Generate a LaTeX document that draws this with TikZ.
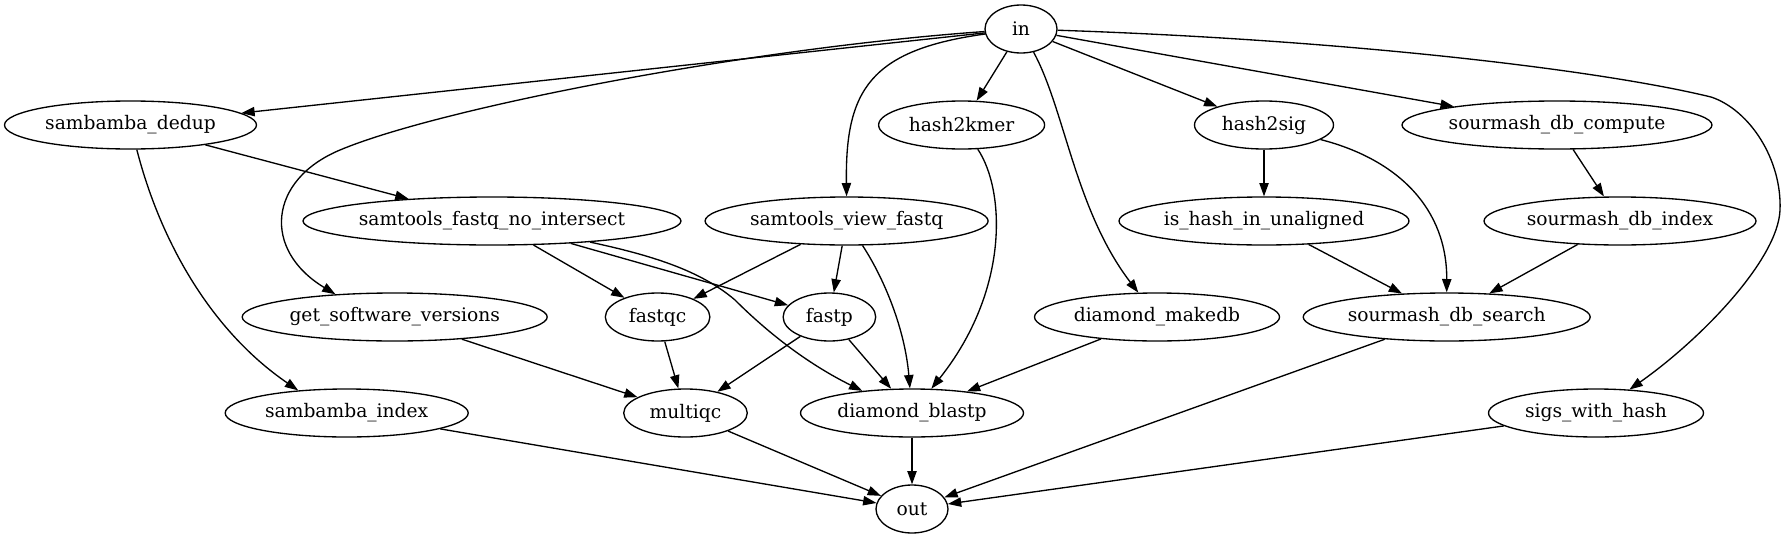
\documentclass[tikz,border=0pt]{standalone}
\usepackage{fontspec}
\setmainfont{DejaVu Serif}
\usetikzlibrary{shapes.geometric,arrows.meta}
\begin{document}
\begin{tikzpicture}[x=0.75pt,y=-0.75pt,
  nd/.style={ellipse,draw,line width=1pt,inner xsep=-4pt,inner ysep=0pt,minimum height=36pt,font=\fontsize{14pt}{16pt}\selectfont},
  ed/.style={line width=1pt,-{Triangle[length=10pt,width=7pt]}}]
\useasboundingbox (0,0) rectangle (1787,539);
% nodes
\node[nd,minimum width=54pt]     (in)  at (1021,29)   {in};
\node[nd,minimum width=189pt]    (sd)  at (130.5,125) {sambamba\_dedup};
\node[nd,minimum width=124.5pt]  (h2k) at (961.6,125) {hash2kmer};
\node[nd,minimum width=104.25pt] (h2s) at (1264,125)  {hash2sig};
\node[nd,minimum width=232.5pt]  (sdc) at (1557,125)  {sourmash\_db\_compute};
\node[nd,minimum width=283.5pt]  (sfn) at (492,221)   {samtools\_fastq\_no\_intersect};
\node[nd,minimum width=212.25pt] (svf) at (846.6,221) {samtools\_view\_fastq};
\node[nd,minimum width=217.5pt]  (ihu) at (1264,221)  {is\_hash\_in\_unaligned};
\node[nd,minimum width=204pt]    (sdi) at (1620,221)  {sourmash\_db\_index};
\node[nd,minimum width=228.75pt] (gsv) at (394.7,317) {get\_software\_versions};
\node[nd,minimum width=78.4pt]   (fqc) at (657.6,317) {fastqc};
\node[nd,minimum width=69.4pt]   (fp)  at (829.4,317) {fastp};
\node[nd,minimum width=183.75pt] (dmk) at (1157,317)  {diamond\_makedb};
\node[nd,minimum width=215.25pt] (sds) at (1446.7,317) {sourmash\_db\_search};
\node[nd,minimum width=182.25pt] (si)  at (346.7,413) {sambamba\_index};
\node[nd,minimum width=92.7pt]   (mq)  at (685.5,413) {multiqc};
\node[nd,minimum width=167.25pt] (db)  at (912,413)   {diamond\_blastp};
\node[nd,minimum width=161.25pt] (swh) at (1596,413)  {sigs\_with\_hash};
\node[nd,minimum width=54pt]     (out) at (912,509)   {out};
% edges from in
\draw[ed] (in) -- (sd);
\draw[ed] (in) .. controls (750,48) and (440,108) .. (340,150) .. controls (268,180) and (262,250) .. (gsv.159);
\draw[ed] (in) .. controls (870,50) and (845,90) .. (svf.north);
\draw[ed] (in) -- (h2k);
\draw[ed] (in) .. controls (1065,110) and (1075,210) .. (dmk);
\draw[ed] (in) -- (h2s);
\draw[ed] (in) -- (sdc);
\draw[ed] (in) .. controls (1350,40) and (1600,70) .. (1711,97) .. controls (1750,110) and (1782,160) .. (1780,210) .. controls (1778,260) and (1700,340) .. (swh);
% sambamba_dedup
\draw[ed] (sd) -- (sfn);
\draw[ed] (sd) .. controls (160,240) and (210,330) .. (si.155);
% samtools_fastq_no_intersect
\draw[ed] (sfn) -- (fqc);
\draw[ed] (sfn) -- (fp);
\draw[ed] (sfn) .. controls (650,255) and (700,270) .. (735,300) .. controls (770,335) and (810,365) .. (db.156);
% samtools_view_fastq
\draw[ed] (svf) -- (fqc);
\draw[ed] (svf) -- (fp);
\draw[ed] (svf) .. controls (885,280) and (905,330) .. (db);
% hash2kmer
\draw[ed] (h2k) .. controls (1005,190) and (1010,290) .. (db);
% hash2sig
\draw[ed] (h2s) -- (ihu);
\draw[ed] (h2s) .. controls (1400,160) and (1447,210) .. (sds.north);
% sourmash
\draw[ed] (sdc) -- (sdi);
\draw[ed] (ihu) -- (sds);
\draw[ed] (sdi) -- (sds);
% row 4
\draw[ed] (gsv) -- (mq);
\draw[ed] (fqc) -- (mq);
\draw[ed] (fp) -- (mq);
\draw[ed] (fp) -- (db);
\draw[ed] (dmk) -- (db);
% to out
\draw[ed] (si) -- (out);
\draw[ed] (mq) -- (out);
\draw[ed] (db) -- (out);
\draw[ed] (sds) -- (out);
\draw[ed] (swh) -- (out);
\end{tikzpicture}
\end{document}
